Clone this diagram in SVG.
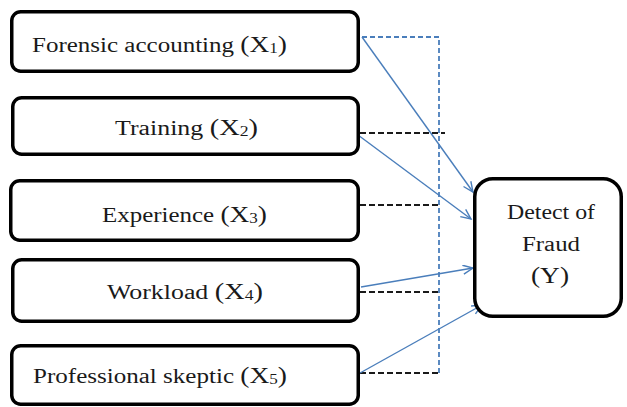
<svg xmlns="http://www.w3.org/2000/svg" width="627" height="407" viewBox="0 0 627 407">
<style>
.box{fill:#fff;stroke:#000;stroke-width:3.5}
.lbl{font-family:"Liberation Serif","Times New Roman",serif;font-size:20.5px;fill:#1a1a1a}
.big{font-size:22.5px}
.sub{font-size:14px}
.arr{fill:none;stroke:#4a7ebb;stroke-width:1.4}
.bdash{fill:none;stroke:#4a7ebb;stroke-width:1.8;stroke-dasharray:5 3}
.kdash{fill:none;stroke:#1a1a1a;stroke-width:2;stroke-dasharray:6 3}
</style>
<defs>
<marker id="ah" markerUnits="userSpaceOnUse" markerWidth="14" markerHeight="12" refX="11" refY="5" orient="auto">
<path d="M1,0.5 L11,5 L1,9.5" fill="none" stroke="#4a7ebb" stroke-width="1.4"/>
</marker>
</defs>
<rect width="627" height="407" fill="#fff"/>
<g id="connectors">
<path class="bdash" d="M362,37 H439 V373"/>
<path class="kdash" d="M360,133 H445"/>
<path class="kdash" d="M360,205 H440"/>
<path class="kdash" d="M360,292 H440"/>
<path class="kdash" d="M360,373 H439"/>
<path class="arr" d="M362,37 L473,192" marker-end="url(#ah)"/>
<path class="arr" d="M358,135 L471,219" marker-end="url(#ah)"/>
<path class="arr" d="M361,287 L473,268" marker-end="url(#ah)"/>
<path class="arr" d="M360,373 L482,305" marker-end="url(#ah)"/>
</g>
<g id="x1">
<rect class="box" x="11.75" y="11.75" width="346.5" height="59.5" rx="9"/>
<text class="lbl" x="32" y="52" textLength="255" lengthAdjust="spacingAndGlyphs">Forensic accounting <tspan class="big">(X</tspan><tspan class="sub" dy="1">1</tspan><tspan class="big" dy="-1">)</tspan></text>
</g>
<g id="x2">
<rect class="box" x="12.75" y="97.75" width="345.5" height="56.5" rx="9"/>
<text class="lbl" x="115" y="135" textLength="143" lengthAdjust="spacingAndGlyphs">Training <tspan class="big">(X</tspan><tspan class="sub" dy="1">2</tspan><tspan class="big" dy="-1">)</tspan></text>
</g>
<g id="x3">
<rect class="box" x="10.75" y="180.75" width="347.5" height="59.5" rx="9"/>
<text class="lbl" x="102" y="222" textLength="165" lengthAdjust="spacingAndGlyphs">Experience <tspan class="big">(X</tspan><tspan class="sub" dy="1">3</tspan><tspan class="big" dy="-1">)</tspan></text>
</g>
<g id="x4">
<rect class="box" x="12.75" y="259.75" width="345.5" height="61.5" rx="9"/>
<text class="lbl" x="107" y="299" textLength="156" lengthAdjust="spacingAndGlyphs">Workload <tspan class="big">(X</tspan><tspan class="sub" dy="1">4</tspan><tspan class="big" dy="-1">)</tspan></text>
</g>
<g id="x5">
<rect class="box" x="11.75" y="345.75" width="346.5" height="58.5" rx="9"/>
<text class="lbl" x="33" y="383" textLength="254" lengthAdjust="spacingAndGlyphs">Professional skeptic <tspan class="big">(X</tspan><tspan class="sub" dy="1">5</tspan><tspan class="big" dy="-1">)</tspan></text>
</g>
<g id="y">
<rect class="box" x="474.75" y="178.75" width="146.5" height="137.5" rx="18"/>
<text class="lbl" x="507" y="219" textLength="88" lengthAdjust="spacingAndGlyphs">Detect of</text>
<text class="lbl" x="522" y="251" textLength="58" lengthAdjust="spacingAndGlyphs">Fraud</text>
<text class="lbl big" x="531" y="283" textLength="38" lengthAdjust="spacingAndGlyphs">(Y)</text>
</g>
</svg>
